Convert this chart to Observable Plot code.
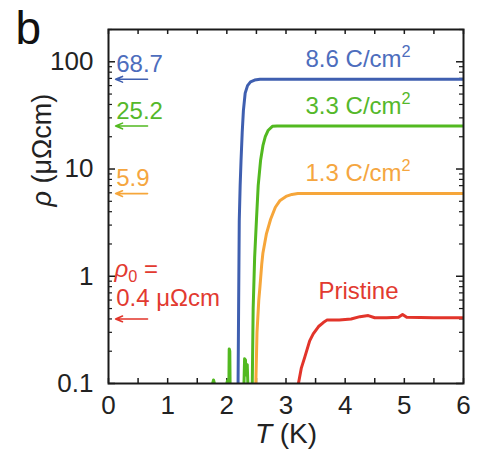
<!DOCTYPE html>
<html><head><meta charset="utf-8">
<script src="https://cdn.jsdelivr.net/npm/d3@7"></script>
<script src="https://cdn.jsdelivr.net/npm/@observablehq/plot@0.6"></script>
<style>html,body{margin:0;padding:0;background:#fff;}svg{display:block;}</style>
</head><body><div id="chart"></div>
<script>
// ---- data ----
const T_86  = [2.19, 2.2, 2.21, 2.225, 2.24, 2.26, 2.28, 2.31, 2.35, 2.4, 2.47, 2.56, 3.0, 4.0, 5.0, 6.0];
const rho_86 = [0.1, 0.6, 3.3, 7, 12, 22, 35, 51, 60, 65, 67.5, 68.7, 68.7, 68.7, 68.7, 68.7];

const T_33  = [1.76, 1.775, 1.79, NaN, 2.0, 2.01, 2.02, NaN, 2.035, 2.04, 2.05, 2.055, NaN, 2.29, 2.3, 2.315, 2.325, 2.345, 2.355, NaN, 2.43, 2.445, 2.47, 2.5, 2.53, 2.57, 2.61, 2.65, 2.7, 2.77, 2.85, 4.0, 5.0, 6.0];
const rho_33 = [0.1, 0.108, 0.1, NaN, 0.1, 0.106, 0.1, NaN, 0.1, 0.21, 0.2, 0.1, NaN, 0.1, 0.17, 0.165, 0.12, 0.15, 0.1, NaN, 0.1, 0.5, 1.5, 3.3, 7, 12, 16.5, 20, 23, 25, 25.2, 25.2, 25.2, 25.2];

const T_13  = [2.49, 2.51, 2.54, 2.56, 2.59, 2.61, 2.67, 2.74, 2.82, 2.9, 3.0, 3.1, 3.2, 4.0, 5.0, 6.0];
const rho_13 = [0.1, 0.3, 0.6, 0.8, 1.3, 1.65, 2.5, 3.4, 4.4, 5.1, 5.55, 5.8, 5.9, 5.9, 5.9, 5.9];

const T_pr  = [3.21, 3.26, 3.32, 3.4, 3.46, 3.55, 3.63, 3.69, 3.9, 4.1, 4.25, 4.39, 4.5, 4.7, 4.9, 4.97, 5.04, 5.5, 6.0];
const rho_pr = [0.1, 0.14, 0.178, 0.25, 0.29, 0.34, 0.37, 0.39, 0.39, 0.4, 0.42, 0.43, 0.41, 0.41, 0.415, 0.44, 0.415, 0.41, 0.41];

const seriesNames  = ["8.6 C/cm2", "3.3 C/cm2", "1.3 C/cm2", "Pristine"];
const seriesColors = ["#3f5fb0", "#52b920", "#f6a63a", "#e2342a"];
const textColors   = ["#4d6dbd", "#55b82a", "#f5a640", "#e23a30"];
const rho0Values   = [68.7, 25.2, 5.9, 0.4];
const rho0Labels   = ["68.7", "25.2", "5.9", "0.4 μΩcm"];

const xTickLabels = [0, 1, 2, 3, 4, 5, 6];
const yTickLabels = [0.1, 1, 10, 100];

// ---- build tables ----
const toRows = (T, R, s) => T.map((t, i) => ({T: t, rho: R[i], series: s}));
const curves = [
  toRows(T_86, rho_86, 0), toRows(T_33, rho_33, 1), toRows(T_13, rho_13, 2), toRows(T_pr, rho_pr, 3)
];
const levels = rho0Values.map((v, i) => ({v, label: rho0Labels[i], color: textColors[i], line: seriesColors[i]}));
const rightLabels = seriesNames.map((n, i) => ({name: n, v: rho0Values[i], color: textColors[i]}));

const yMinor = [];
[0.1, 1, 10, 100].forEach(d => { for (let k = 2; k <= 9; k++) if (d * k <= 200) yMinor.push(d * k); });
const xMinor = d3.range(0, 6.01, 0.5);

const W = 480, H = 463, mL = 108, mR = 17, mT = 29, mB = 80;
const pw = W - mL - mR, ph = H - mT - mB;
const font = "Liberation Sans, Arial, Helvetica, sans-serif";
const ink = "#1a1a1a";

const chart = Plot.plot({
  width: W, height: H,
  marginLeft: mL, marginRight: mR, marginTop: mT, marginBottom: mB,
  x: {domain: [0, 6]},
  y: {type: "log", domain: [0.1, 200]},
  style: {fontFamily: font, background: "white", color: ink},
  marks: [
    // inward ticks
    Plot.tickY(yTickLabels, {y: d => d, insetRight: pw - 7, stroke: ink, strokeWidth: 1.5}),
    Plot.tickY(yMinor, {y: d => d, insetRight: pw - 4, stroke: ink, strokeWidth: 1.2}),
    Plot.tickY(yTickLabels, {y: d => d, insetLeft: pw - 7, stroke: ink, strokeWidth: 1.5}),
    Plot.tickY(yMinor, {y: d => d, insetLeft: pw - 4, stroke: ink, strokeWidth: 1.2}),
    Plot.tickX(xMinor, {x: d => d, insetTop: ph - 5, stroke: ink, strokeWidth: 1.5}),
    Plot.tickX(xMinor, {x: d => d, insetBottom: ph - 5, stroke: ink, strokeWidth: 1.5}),
    // curves
    ...curves.map((rows, i) => Plot.line(rows, {x: "T", y: "rho", stroke: seriesColors[i], strokeWidth: 3, strokeLinejoin: "round", clip: true})),
    Plot.frame({stroke: ink, strokeWidth: 2}),
    // axes
    Plot.axisX({ticks: xTickLabels, tickSize: 0, tickPadding: 12, fontSize: 26, label: null, tickFormat: d => String(d), fill: "#222"}),
    Plot.axisY({ticks: yTickLabels, tickSize: 0, tickPadding: 15, fontSize: 26, label: null, tickFormat: d => String(d), fill: "#222"}),
    // left-side rho0 annotations
    Plot.arrow(levels, {x1: 0.66, x2: 0.12, y1: "v", y2: "v", stroke: "line", strokeWidth: 1.6, headLength: 7, headAngle: 45}),
    Plot.text(levels.slice(0, 3), {x: 0.13, y: "v", text: "label", fill: "color", dy: -15, textAnchor: "start", fontSize: 24}),
    Plot.text(levels.slice(3), {x: 0.13, y: "v", text: "label", fill: "color", dy: -21, textAnchor: "start", fontSize: 24}),
    Plot.text(levels.slice(3), {x: 0.1, y: "v", text: () => "ρ0 =", fill: "color", dy: -50, textAnchor: "start", fontSize: 24}),
    // right-side series labels
    Plot.text(rightLabels.slice(0, 3), {x: 3.33, y: "v", text: "name", fill: "color", dy: -20, textAnchor: "start", fontSize: 24}),
    Plot.text(rightLabels.slice(3), {x: 3.55, y: "v", text: "name", fill: "color", dy: -28, textAnchor: "start", fontSize: 24}),
    // axis titles and panel letter
    Plot.text(["T (K)"], {frameAnchor: "bottom", dy: 59, fontSize: 28, fill: "#222"}),
    Plot.text(["ρ (μΩcm)"], {frameAnchor: "left", dx: -66, rotate: -90, fontSize: 27, fill: "#222"}),
    Plot.text(["b"], {frameAnchor: "top-left", dx: -93, dy: -18, fontSize: 46, textAnchor: "start", fill: "#111"})
  ]
});

// rich text: italics, sub/superscripts
const NS = "http://www.w3.org/2000/svg";
function span(parent, str, attrs = {}) {
  const t = document.createElementNS(NS, "tspan");
  t.textContent = str;
  for (const k in attrs) t.setAttribute(k, attrs[k]);
  parent.appendChild(t);
}
chart.querySelectorAll("text").forEach(t => {
  const s = t.textContent;
  if (s.endsWith("C/cm2")) {
    t.textContent = "";
    span(t, s.slice(0, -1));
    span(t, "2", {"font-size": "0.68em", dy: "-0.6em"});
  } else if (s === "ρ0 =") {
    t.textContent = "";
    span(t, "ρ", {"font-style": "italic"});
    span(t, "0", {"font-size": "0.68em", dy: "0.35em"});
    span(t, " =", {dy: "-0.24em"});
  } else if (s === "ρ (μΩcm)") {
    t.textContent = "";
    span(t, "ρ", {"font-style": "italic"});
    span(t, " (μΩcm)");
  } else if (s === "T (K)") {
    t.textContent = "";
    span(t, "T", {"font-style": "italic"});
    span(t, " (K)");
  }
});
document.getElementById("chart").appendChild(chart);
</script>
</body></html>
